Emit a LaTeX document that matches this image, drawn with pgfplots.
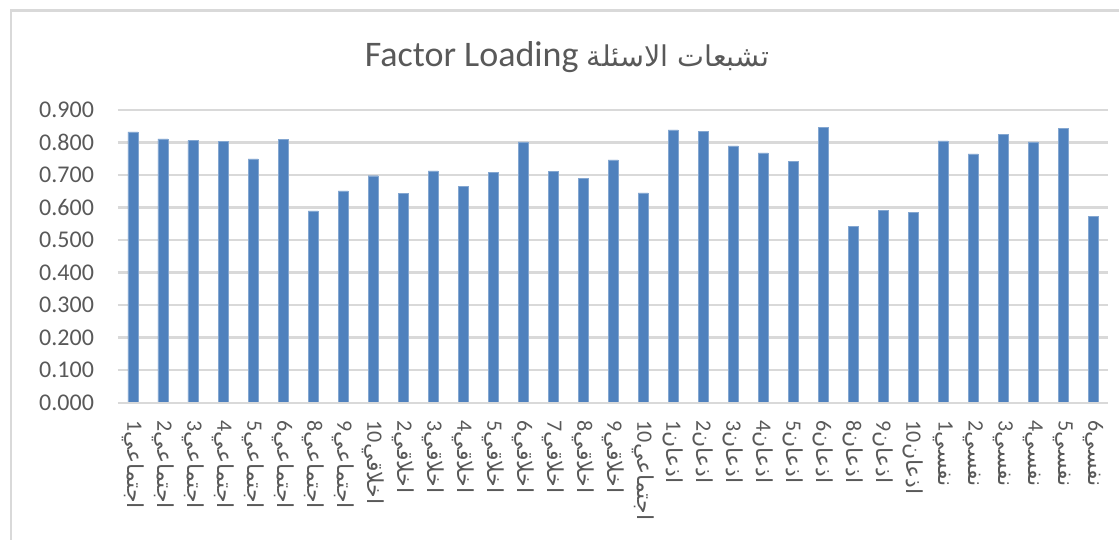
\documentclass[border=0pt]{standalone}
\usepackage{fontspec}
\setmainfont{Carlito}
\newfontfamily\arabicfont[Script=Arabic]{DejaVu Sans}
\TeXXeTstate=1
\usepackage{pgfplots}
\pgfplotsset{compat=1.18}
\definecolor{barblue}{HTML}{4F81BD}
\definecolor{gridgray}{HTML}{D9D9D9}
\definecolor{txtgray}{HTML}{595959}
\newcommand{\lab}[2]{#1{\arabicfont\beginR #2\endR}}
\begin{document}
\begin{tikzpicture}
\begin{axis}[
  scale only axis,
  width=495pt, height=146.35pt,
  xmin=-0.5, xmax=32.5,
  ymin=0, ymax=0.9,
  ytick={0,0.1,...,0.9},
  axis line style={draw=none},
  axis x line*=bottom,
  ymajorgrids,
  grid style={gridgray, line width=1.2pt},
  major tick length=0pt,
  /pgf/number format/fixed,
  /pgf/number format/fixed zerofill,
  /pgf/number format/precision=3,
  /pgf/number format/assume math mode=true,
  yticklabel style={font=\fontsize{12}{14}\selectfont, text=txtgray, xshift=-8.5pt},
  xtick=data,
  xticklabels={
    \lab{1}{اجتماعي},\lab{2}{اجتماعي},\lab{3}{اجتماعي},\lab{4}{اجتماعي},\lab{5}{اجتماعي},\lab{6}{اجتماعي},\lab{8}{اجتماعي},\lab{9}{اجتماعي},
    \lab{10}{اخلاقي},\lab{2}{اخلاقي},\lab{3}{اخلاقي},\lab{4}{اخلاقي},\lab{5}{اخلاقي},\lab{6}{اخلاقي},\lab{7}{اخلاقي},\lab{8}{اخلاقي},\lab{9}{اخلاقي},
    \lab{10}{اجتماعي},
    \lab{1}{اذعان},\lab{2}{اذعان},\lab{3}{اذعان},\lab{4}{اذعان},\lab{5}{اذعان},\lab{6}{اذعان},\lab{8}{اذعان},\lab{9}{اذعان},\lab{10}{اذعان},
    \lab{1}{نفسي},\lab{2}{نفسي},\lab{3}{نفسي},\lab{4}{نفسي},\lab{5}{نفسي},\lab{6}{نفسي}},
  xticklabel style={rotate=-90, anchor=west, font=\fontsize{11}{13}\selectfont, text=txtgray, inner sep=0pt, outer sep=9pt},
  xtick style={draw=none},
  title={\fontsize{18}{22}\selectfont Factor Loading {\arabicfont\fontsize{14.3}{18}\selectfont\beginR تشبعات الاسئلة\endR}},
  title style={at={(0.4535,1.181)}, anchor=center, yshift=-6pt, text=txtgray},
  clip=false,
]
\addplot[ybar, bar width=5pt, fill=barblue, draw=barblue!70!white, line width=0.2pt] coordinates {
(0,0.833) (1,0.811) (2,0.807) (3,0.804) (4,0.750) (5,0.809) (6,0.590) (7,0.651)
(8,0.698) (9,0.643) (10,0.713) (11,0.666) (12,0.709) (13,0.802) (14,0.711) (15,0.689)
(16,0.747) (17,0.645) (18,0.839) (19,0.834) (20,0.790) (21,0.768) (22,0.742) (23,0.847)
(24,0.543) (25,0.591) (26,0.586) (27,0.805) (28,0.765) (29,0.826) (30,0.802) (31,0.843)
(32,0.574)};
\draw[gridgray, line width=1.2pt] (axis cs:-0.5,0) -- (axis cs:32.5,0);
\end{axis}
\draw[gridgray, line width=1.3pt] (-53.5pt,-68.65pt) -- (-53.5pt,196pt) -- (500.5pt,196pt);
\pgfresetboundingbox
\useasboundingbox (-59pt,-68.65pt) rectangle (500.5pt,201.35pt);
\end{tikzpicture}
\end{document}
